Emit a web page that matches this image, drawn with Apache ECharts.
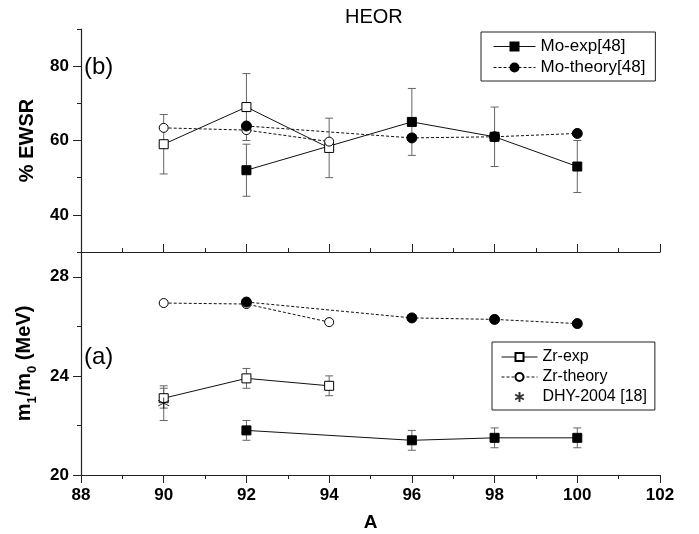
<!DOCTYPE html>
<html>
<head>
<meta charset="utf-8">
<script src="https://cdn.jsdelivr.net/npm/echarts@6.0.0/dist/echarts.min.js"></script>
<style>
html,body{margin:0;padding:0;background:#fff;}
#chart{width:699px;height:534px;}
</style>
</head>
<body>
<div id="chart"></div>
<script>
// mass numbers
var zrA = [90, 92, 94];
var moA = [92, 96, 98, 100];
var dhyA = [90];

// (b) % EWSR
var zrExpEwsr = [59, 69, 58];
var zrExpEwsrErr = [8, 9, 8];
var zrThEwsr = [63.4, 62.8, 59.7];
var moExpEwsr = [52, 65, 61, 53];
var moExpEwsrErr = [7, 9, 8, 7];
var moThEwsr = [63.9, 60.7, 61.0, 61.9];

// (a) m1/m0 (MeV)
var zrExpM = [23.1, 23.9, 23.6];
var zrExpMErr = [0.4, 0.4, 0.4];
var zrThM = [26.94, 26.9, 26.17];
var moExpM = [21.8, 21.4, 21.5, 21.5];
var moExpMErr = [0.4, 0.4, 0.4, 0.4];
var moThM = [26.98, 26.34, 26.28, 26.11];
var dhyM = [22.9];
var dhyMErr = [0.7];

// ticks
var topMajor = [40, 60, 80];
var topMinor = [30, 50, 70, 90];
var botMajor = [20, 24, 28];
var botMinor = [22, 26];

var FONT = '"Liberation Sans", Arial, sans-serif';

var chart = echarts.init(document.getElementById('chart'));

function pts(xs, ys) {
    return xs.map(function (x, i) { return [x, ys[i]]; });
}
function errs(xs, ys, es) {
    return xs.map(function (x, i) { return [x, ys[i] - es[i], ys[i] + es[i]]; });
}

function renderErr(params, api) {
    var x = api.value(0);
    var lo = api.coord([x, api.value(1)]);
    var hi = api.coord([x, api.value(2)]);
    var w = 4;
    var st = { stroke: '#666', lineWidth: 1 };
    return {
        type: 'group',
        children: [
            { type: 'line', shape: { x1: lo[0], y1: lo[1], x2: hi[0], y2: hi[1] }, style: st },
            { type: 'line', shape: { x1: lo[0] - w, y1: lo[1], x2: lo[0] + w, y2: lo[1] }, style: st },
            { type: 'line', shape: { x1: hi[0] - w, y1: hi[1], x2: hi[0] + w, y2: hi[1] }, style: st }
        ]
    };
}

function errSeries(data, yIdx) {
    return {
        type: 'custom', xAxisIndex: yIdx === 0 ? 0 : 1, yAxisIndex: yIdx,
        renderItem: renderErr, data: data, silent: true, z: 1,
        encode: { x: 0, y: [1, 2] }
    };
}

var openStyle = { color: '#fff', borderColor: '#000', borderWidth: 1 };
var fillStyle = { color: '#000', borderColor: '#000', borderWidth: 1 };
var solid = { color: '#111', width: 1, type: 'solid' };
var dashed = { color: '#111', width: 1, type: [3, 2] };

function lineSeries(name, xs, ys, yIdx, sym, size, item, line) {
    return {
        name: name, type: 'line',
        xAxisIndex: yIdx === 0 ? 0 : 1, yAxisIndex: yIdx,
        data: pts(xs, ys), symbol: sym, symbolSize: size,
        showAllSymbol: true, itemStyle: item, lineStyle: line,
        emphasis: { disabled: true }, z: 3
    };
}

function xAx(grid, inside, labels) {
    return {
        type: 'value', gridIndex: grid, min: 88, max: 102, interval: 2,
        axisLine: { show: true, onZero: false, lineStyle: { color: '#222', width: 1.2 } },
        axisTick: { show: true, inside: inside, length: 8, lineStyle: { color: '#222' } },
        minorTick: { show: true, splitNumber: 2, length: 4, lineStyle: { color: '#222' } },
        axisLabel: { show: labels, margin: 12, color: '#000', fontFamily: FONT, fontWeight: 'bold', fontSize: 17 },
        splitLine: { show: false },
        name: labels ? 'A' : '', nameLocation: 'middle', nameGap: 38,
        nameTextStyle: { color: '#000', fontFamily: FONT, fontWeight: 'bold', fontSize: 19 }
    };
}

function yMain(grid, min, max, major, name, gap, rich) {
    return {
        type: 'value', gridIndex: grid, min: min, max: max,
        axisLine: { show: true, onZero: false, lineStyle: { color: '#222', width: 1.2 } },
        axisTick: { show: true, inside: false, length: 8, customValues: major, lineStyle: { color: '#222' } },
        axisLabel: { show: true, customValues: major, margin: 12, color: '#000', fontFamily: FONT, fontWeight: 'bold', fontSize: 17 },
        splitLine: { show: false },
        name: name, nameLocation: 'middle', nameGap: gap,
        nameTextStyle: { color: '#000', fontFamily: FONT, fontWeight: 'bold', fontSize: 20, rich: rich }
    };
}

function yMinor(grid, min, max, minor) {
    return {
        type: 'value', gridIndex: grid, min: min, max: max, position: 'left',
        axisLine: { show: false },
        axisTick: { show: true, inside: false, length: 4, customValues: minor, lineStyle: { color: '#222' } },
        axisLabel: { show: false },
        splitLine: { show: false }
    };
}

var subRich = {
    m: { fontFamily: FONT, fontWeight: 'bold', fontSize: 20, lineHeight: 30, color: '#000' },
    s: { fontFamily: FONT, fontWeight: 'bold', fontSize: 13, lineHeight: 30, verticalAlign: 'bottom', color: '#000' }
};

var option = {
    animation: false,
    backgroundColor: '#fff',
    title: {
        text: 'HEOR', left: 340, top: 2,
        textStyle: { color: '#000', fontFamily: FONT, fontWeight: 'normal', fontSize: 20 }
    },
    grid: [
        { left: 81, right: 39, top: 29, height: 223 },
        { left: 81, right: 39, top: 252, height: 223 }
    ],
    xAxis: [xAx(0, true, false), xAx(1, false, true)],
    yAxis: [
        yMain(0, 30, 90, topMajor, '% EWSR', 44),
        yMinor(0, 30, 90, topMinor),
        yMain(1, 20, 29, botMajor, '{m|m}{s|1}{m|/m}{s|0}{m| (MeV)}', 38, subRich),
        yMinor(1, 20, 29, botMinor)
    ],
    legend: [
        {
            data: ['Mo-exp[48]', 'Mo-theory[48]'],
            orient: 'vertical', left: 481, top: 32,
            itemWidth: 42, itemHeight: 10, itemGap: 4, padding: [6, 10, 5, 12],
            borderColor: '#222', borderWidth: 1,
            textStyle: { color: '#000', fontFamily: FONT, fontSize: 17 },
            lineStyle: { width: 1 },
            selectedMode: false
        },
        {
            data: ['Zr-exp', 'Zr-theory', 'DHY-2004 [18]'],
            orient: 'vertical', left: 492, top: 342,
            itemWidth: 36, itemHeight: 10, itemGap: 4, padding: [7, 8, 5, 9],
            borderColor: '#222', borderWidth: 1,
            textStyle: { color: '#000', fontFamily: FONT, fontSize: 16 },
            lineStyle: { width: 1 },
            selectedMode: false
        }
    ],
    graphic: [
        { type: 'text', left: 84, top: 55, style: { text: '(b)', fontFamily: FONT, fontSize: 24, fill: '#000' } },
        { type: 'text', left: 84, top: 345, style: { text: '(a)', fontFamily: FONT, fontSize: 24, fill: '#000' } }
    ],
    series: [
        errSeries(errs(zrA, zrExpEwsr, zrExpEwsrErr), 0),
        errSeries(errs(moA, moExpEwsr, moExpEwsrErr), 0),
        errSeries(errs(zrA, zrExpM, zrExpMErr), 2),
        errSeries(errs(moA, moExpM, moExpMErr), 2),
        errSeries(errs(dhyA, dhyM, dhyMErr), 2),

        lineSeries('Zr-exp', zrA, zrExpEwsr, 0, 'rect', 9, openStyle, solid),
        lineSeries('Zr-theory', zrA, zrThEwsr, 0, 'circle', 9, openStyle, dashed),
        lineSeries('Mo-theory[48]', moA, moThEwsr, 0, 'circle', 10, fillStyle, dashed),
        lineSeries('Mo-exp[48]', moA, moExpEwsr, 0, 'rect', 9, fillStyle, solid),

        lineSeries('Zr-exp', zrA, zrExpM, 2, 'rect', 9, openStyle, solid),
        lineSeries('Zr-theory', zrA, zrThM, 2, 'circle', 9, openStyle, dashed),
        lineSeries('Mo-theory[48]', moA, moThM, 2, 'circle', 10, fillStyle, dashed),
        lineSeries('Mo-exp[48]', moA, moExpM, 2, 'rect', 9, fillStyle, solid),
        {
            name: 'DHY-2004 [18]', type: 'scatter', xAxisIndex: 1, yAxisIndex: 2,
            data: pts(dhyA, dhyM),
            symbol: 'path://M0,-6L0,6M-5.2,-3L5.2,3M-5.2,3L5.2,-3',
            symbolSize: 11,
            itemStyle: { color: 'rgba(0,0,0,0)', borderColor: '#000', borderWidth: 1 },
            emphasis: { disabled: true }, z: 4
        }
    ]
};

chart.setOption(option);
</script>
</body>
</html>
